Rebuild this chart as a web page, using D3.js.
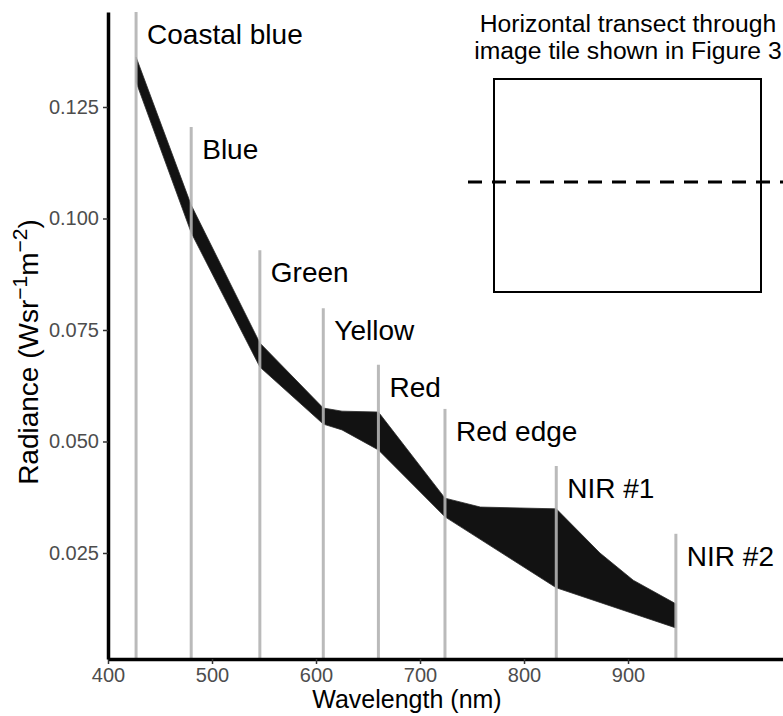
<!DOCTYPE html>
<html>
<head>
<meta charset="utf-8">
<script src="https://cdn.jsdelivr.net/npm/d3@7"></script>
<style>
  body { margin: 0; background: #fff; }
  svg { display: block; font-family: "Liberation Sans", Arial, sans-serif; }
</style>
</head>
<body>
<div id="target"></div>
<script>
// WorldView-2 bands
var bandNames = ['Coastal blue', 'Blue', 'Green', 'Yellow', 'Red', 'Red edge', 'NIR #1', 'NIR #2'];
var bandNm = [427, 480, 546, 607, 660, 724, 831, 946];
var bandTop = [0.1463, 0.1205, 0.0929, 0.0799, 0.0672, 0.0573, 0.0445, 0.0293];

// envelope of the transect spectra
var upperNm = [427, 480, 546, 607, 625, 660, 724, 758, 831, 873, 905, 946];
var upperRad = [0.1362, 0.1030, 0.0721, 0.0575, 0.0568, 0.0566, 0.0373, 0.0353, 0.0349, 0.0250, 0.0189, 0.0136];
var lowerNm = [427, 480, 546, 607, 625, 660, 724, 831, 946];
var lowerRad = [0.1306, 0.0968, 0.0667, 0.0539, 0.0526, 0.0481, 0.0331, 0.0172, 0.0082];

var xTicks = [400, 500, 600, 700, 800, 900];
var yTicks = [0.025, 0.050, 0.075, 0.100, 0.125];

var W = 783, H = 716;
var svg = d3.select('#target').append('svg')
  .attr('width', W)
  .attr('height', H);

var x = d3.scaleLinear().domain([400, 1049]).range([108, 783]);
var y = d3.scaleLinear().domain([0.00123, 0.1463]).range([659, 12]);

// bundle of spectra
var upper = upperNm.map(function(d, i) { return [d, upperRad[i]]; });
var lower = lowerNm.map(function(d, i) { return [d, lowerRad[i]]; });
var line = d3.line()
  .x(function(d) { return x(d[0]); })
  .y(function(d) { return y(d[1]); });

svg.append('path')
  .attr('d', line(upper.concat(lower.slice().reverse())) + 'Z')
  .attr('fill', '#121212')
  .attr('stroke', '#2a2a2a')
  .attr('stroke-width', 0.8);

// band lines
svg.selectAll('.band')
  .data(bandNm)
  .enter().append('line')
  .attr('class', 'band')
  .attr('x1', function(d) { return x(d); })
  .attr('x2', function(d) { return x(d); })
  .attr('y1', function(d, i) { return y(bandTop[i]); })
  .attr('y2', y.range()[0])
  .attr('stroke', '#b3b3b3')
  .attr('stroke-opacity', 0.9)
  .attr('stroke-width', 3);

svg.selectAll('.bandlabel')
  .data(bandNames)
  .enter().append('text')
  .attr('class', 'bandlabel')
  .attr('x', function(d, i) { return x(bandNm[i]) + 11; })
  .attr('y', function(d, i) { return y(bandTop[i]) + 32; })
  .attr('font-size', 28)
  .attr('fill', '#000')
  .text(function(d) { return d; });

// axes
var xAxis = svg.append('g')
  .attr('transform', 'translate(0,' + y.range()[0] + ')')
  .call(d3.axisBottom(x).tickValues(xTicks).tickSize(5).tickSizeOuter(0));
var yAxis = svg.append('g')
  .attr('transform', 'translate(' + x.range()[0] + ',0)')
  .call(d3.axisLeft(y).tickValues(yTicks).tickFormat(d3.format('.3f')).tickSize(5).tickSizeOuter(0));

[xAxis, yAxis].forEach(function(g) {
  g.select('.domain').attr('stroke', '#000').attr('stroke-width', 3.5);
  g.selectAll('.tick line').attr('stroke', '#333').attr('stroke-width', 1.5);
  g.selectAll('.tick text').attr('fill', '#4d4d4d').attr('font-size', 20)
    .attr('font-family', '"Liberation Sans", Arial, sans-serif');
});
xAxis.selectAll('.tick text').attr('dy', '0.76em');
yAxis.selectAll('.tick text').attr('dx', '-0.05em');

svg.append('text')
  .attr('x', 407)
  .attr('y', 708)
  .attr('text-anchor', 'middle')
  .attr('font-size', 25)
  .text('Wavelength (nm)');

var yTitle = svg.append('text')
  .attr('transform', 'translate(38,352) rotate(-90)')
  .attr('text-anchor', 'middle')
  .attr('font-size', 28);
yTitle.append('tspan').text('Radiance (Wsr');
yTitle.append('tspan').attr('font-size', 21).attr('dy', -11).text('\u22121');
yTitle.append('tspan').attr('dy', 11).text('m');
yTitle.append('tspan').attr('font-size', 21).attr('dy', -11).text('\u22122');
yTitle.append('tspan').attr('dy', 11).text(')');

// inset: transect through the image tile
svg.append('text')
  .attr('x', 628)
  .attr('y', 32)
  .attr('text-anchor', 'middle')
  .attr('font-size', 24.7)
  .text('Horizontal transect through');
svg.append('text')
  .attr('x', 628)
  .attr('y', 59)
  .attr('text-anchor', 'middle')
  .attr('font-size', 24.7)
  .text('image tile shown in Figure 3');

svg.append('rect')
  .attr('x', 494)
  .attr('y', 79)
  .attr('width', 267)
  .attr('height', 213)
  .attr('fill', 'none')
  .attr('stroke', '#000')
  .attr('stroke-width', 2);

svg.append('line')
  .attr('x1', 468)
  .attr('x2', 790)
  .attr('y1', 182)
  .attr('y2', 182)
  .attr('stroke', '#000')
  .attr('stroke-width', 3)
  .attr('stroke-dasharray', '14,10');
</script>
</body>
</html>
